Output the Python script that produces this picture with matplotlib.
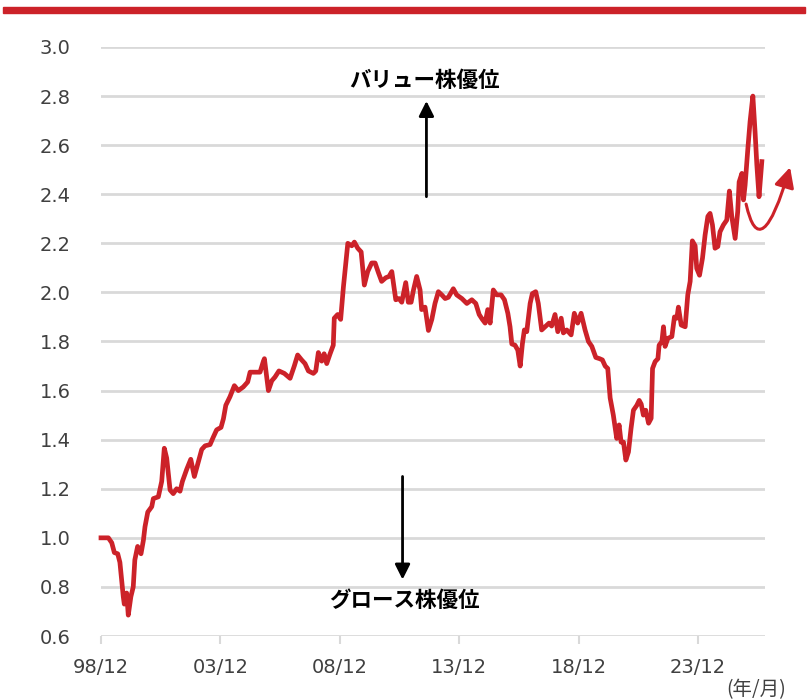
import matplotlib
matplotlib.use("Agg")
import matplotlib.pyplot as plt
from matplotlib.patches import Rectangle, FancyArrowPatch
from matplotlib.path import Path

# ---- data: months elapsed since 1998/12, and value/growth relative index ----
months = [0, 2, 3.7, 5.4, 6.7, 8.4, 9.5, 11.2, 11.7, 12.9, 13.7, 15, 16.2, 17, 18.4, 20.1, 21.3, 22.1,
          23.5, 25.5, 26.3, 28.8, 30.5, 31.8, 33, 34.7, 36.3, 38, 39.7, 40.9, 43.1, 45.1, 46.9, 48.9,
          50.6, 52.3, 54.8, 56.4, 58.1, 60.3, 61.5, 62.7, 64.8, 67, 69, 71.5, 73.7, 74.9, 78.7, 79.9,
          81.6, 82.1, 84.1, 85.8, 87.4, 89.4, 92.1, 95, 97.1, 98.8, 100.8, 102.5, 104.2, 106.7, 107.9,
          109.2, 110.9, 112.1, 113.4, 115.1, 116.7, 117.2, 118.9, 120.4, 121.8, 123, 124, 126, 127.3,
          129, 130.7, 132.3, 134, 136, 137.7, 139.4, 141, 143.1, 144.7, 146.1, 148.1, 149.7, 151.1,
          153.1, 154.4, 155.8, 157, 158.6, 160.3, 161.1, 162.8, 164.5, 166.2, 167.8, 169.5, 171.2,
          172.9, 174.5, 177, 178.7, 181.3, 183.8, 186.3, 188.3, 190, 191.6, 193, 194.3, 195.5, 197.1,
          198.8, 201, 202.7, 204.4, 205.5, 206.4, 208, 209.4, 210.6, 211.7, 212.7, 213.9, 215.6,
          216.7, 218.4, 219.7, 221.4, 223.1, 225.1, 226.4, 228.1, 229.5, 231.2, 232.3, 234, 236.2,
          237.8, 239.5, 241.2, 243.2, 244.9, 246.6, 248.6, 250.5, 251.9, 253.3, 254.6, 255.8, 257.4,
          259.1, 260.3, 261.3, 262.5, 263.7, 265, 266.3, 267.5, 269.2, 270.4, 271.4, 272.5, 273.7,
          275.1, 276.4, 277.1, 278.4, 279.8, 280.4, 281.8, 282.6, 283.4, 284.8, 286.8, 288.1, 289.3,
          290.1, 291.5, 293.5, 294.8, 296, 297.1, 298.5, 299.3, 300.7, 302.2, 303.5, 304.9, 306,
          307.2, 308.5, 309.9, 311, 312.7, 314.4, 315.7, 316.9, 318.6, 319.9, 320.6, 322, 322.8,
          323.6, 325, 326.1, 327.5, 328.6, 329.5, 330.6, 332]
ratio = [1.00, 1.00, 1.00, 0.98, 0.94, 0.935, 0.90, 0.76, 0.73, 0.775, 0.685, 0.76, 0.80, 0.91, 0.965,
         0.935, 0.99, 1.045, 1.105, 1.127, 1.16, 1.167, 1.23, 1.365, 1.325, 1.195, 1.18, 1.20, 1.19,
         1.23, 1.28, 1.32, 1.25, 1.31, 1.36, 1.375, 1.38, 1.41, 1.44, 1.45, 1.485, 1.54, 1.575, 1.62,
         1.60, 1.615, 1.635, 1.675, 1.675, 1.675, 1.72, 1.73, 1.60, 1.64, 1.655, 1.68, 1.67, 1.65,
         1.70, 1.745, 1.725, 1.71, 1.68, 1.67, 1.68, 1.755, 1.72, 1.75, 1.71, 1.75, 1.785, 1.895,
         1.91, 1.89, 2.023, 2.12, 2.20, 2.19, 2.205, 2.18, 2.165, 2.03, 2.085, 2.12, 2.12, 2.08,
         2.045, 2.06, 2.065, 2.085, 1.97, 1.975, 1.96, 2.04, 1.96, 1.96, 2.01, 2.065, 2.01, 1.93,
         1.94, 1.845, 1.89, 1.955, 2.003, 1.99, 1.975, 1.98, 2.015, 1.99, 1.975, 1.955, 1.97, 1.955,
         1.91, 1.89, 1.875, 1.93, 1.875, 2.01, 1.99, 1.99, 1.97, 1.915, 1.86, 1.79, 1.785, 1.765,
         1.70, 1.79, 1.847, 1.84, 1.955, 1.995, 2.003, 1.955, 1.847, 1.86, 1.875, 1.863, 1.91, 1.84,
         1.895, 1.835, 1.847, 1.827, 1.915, 1.875, 1.915, 1.847, 1.80, 1.78, 1.735, 1.73, 1.725,
         1.70, 1.69, 1.57, 1.50, 1.405, 1.46, 1.39, 1.39, 1.317, 1.35, 1.446, 1.52, 1.54, 1.56,
         1.545, 1.50, 1.52, 1.467, 1.487, 1.69, 1.718, 1.73, 1.785, 1.80, 1.86, 1.78, 1.813, 1.82,
         1.90, 1.895, 1.94, 1.867, 1.86, 1.99, 2.045, 2.21, 2.19, 2.098, 2.07, 2.14, 2.234, 2.31,
         2.322, 2.275, 2.18, 2.187, 2.247, 2.275, 2.295, 2.413, 2.31, 2.22, 2.33, 2.45, 2.485,
         2.377, 2.437, 2.587, 2.696, 2.80, 2.655, 2.52, 2.39, 2.533]

tick_months = [0, 60, 120, 180, 240, 300]
tick_labels = ["98/12", "03/12", "08/12", "13/12", "18/12", "23/12"]
y_ticks = [0.6, 0.8, 1.0, 1.2, 1.4, 1.6, 1.8, 2.0, 2.2, 2.4, 2.6, 2.8, 3.0]

RED = "#cc2229"
GRID = "#d9d9d9"
TXT = "#404040"

fig = plt.figure(figsize=(8.08, 7.0), dpi=100)
fig.patches.append(Rectangle((3 / 808, 1 - 13 / 700), 802 / 808, 6 / 700,
                             transform=fig.transFigure, color=RED, zorder=0))

ax = fig.add_axes([101 / 808, 1 - 636 / 700, 664 / 808, 589 / 700])
ax.set_xlim(0, 333.6)
ax.set_ylim(0.6, 3.0)
for s in ax.spines.values():
    s.set_visible(False)

for yv in y_ticks:
    ax.axhline(yv, color=GRID, lw=2.0, zorder=1)

ax.plot(months, ratio, color=RED, lw=3.4, zorder=3, solid_joinstyle="round", clip_on=False)

ax.set_yticks(y_ticks)
ax.set_yticklabels([f"{v:.1f}" for v in y_ticks], fontsize=14, color=TXT)
ax.tick_params(axis="y", length=0, pad=22)
ax.set_xticks(tick_months)
ax.set_xticklabels(tick_labels, fontsize=14, color=TXT)
ax.tick_params(axis="x", length=6, width=1.5, color=GRID, pad=10)

jp = ["Noto Sans CJK JP", "DejaVu Sans"]
fig.text(756 / 808, 1 - 690 / 700, "(年/月)", ha="center", va="center", fontsize=14,
         color=TXT, family=jp)

ax.text(162.5, 2.865, "バリュー株優位", ha="center", va="center", fontsize=15.5,
        fontweight="bold", family=jp, color="black")
ax.text(152.5, 0.744, "グロース株優位", ha="center", va="center", fontsize=15.5,
        fontweight="bold", family=jp, color="black")

ax.annotate("", xy=(163.5, 2.78), xytext=(163.5, 2.39),
            arrowprops=dict(arrowstyle="-|>,head_width=0.45,head_length=0.9",
                            color="black", lw=2.0, shrinkA=0, shrinkB=0))
ax.annotate("", xy=(151.5, 0.83), xytext=(151.5, 1.25),
            arrowprops=dict(arrowstyle="-|>,head_width=0.45,head_length=0.9",
                            color="black", lw=2.0, shrinkA=0, shrinkB=0))

curve_path = Path([(324.1, 2.36), (331.2, 2.10), (346.2, 2.51)],
                  [Path.MOVETO, Path.CURVE3, Path.CURVE3])
curve = FancyArrowPatch(path=curve_path,
                        arrowstyle="-|>,head_width=0.5,head_length=1.0",
                        mutation_scale=12, color=RED, lw=2.2,
                        clip_on=False, zorder=4, transform=ax.transData)
ax.add_patch(curve)

fig.savefig("out.png", dpi=100)
